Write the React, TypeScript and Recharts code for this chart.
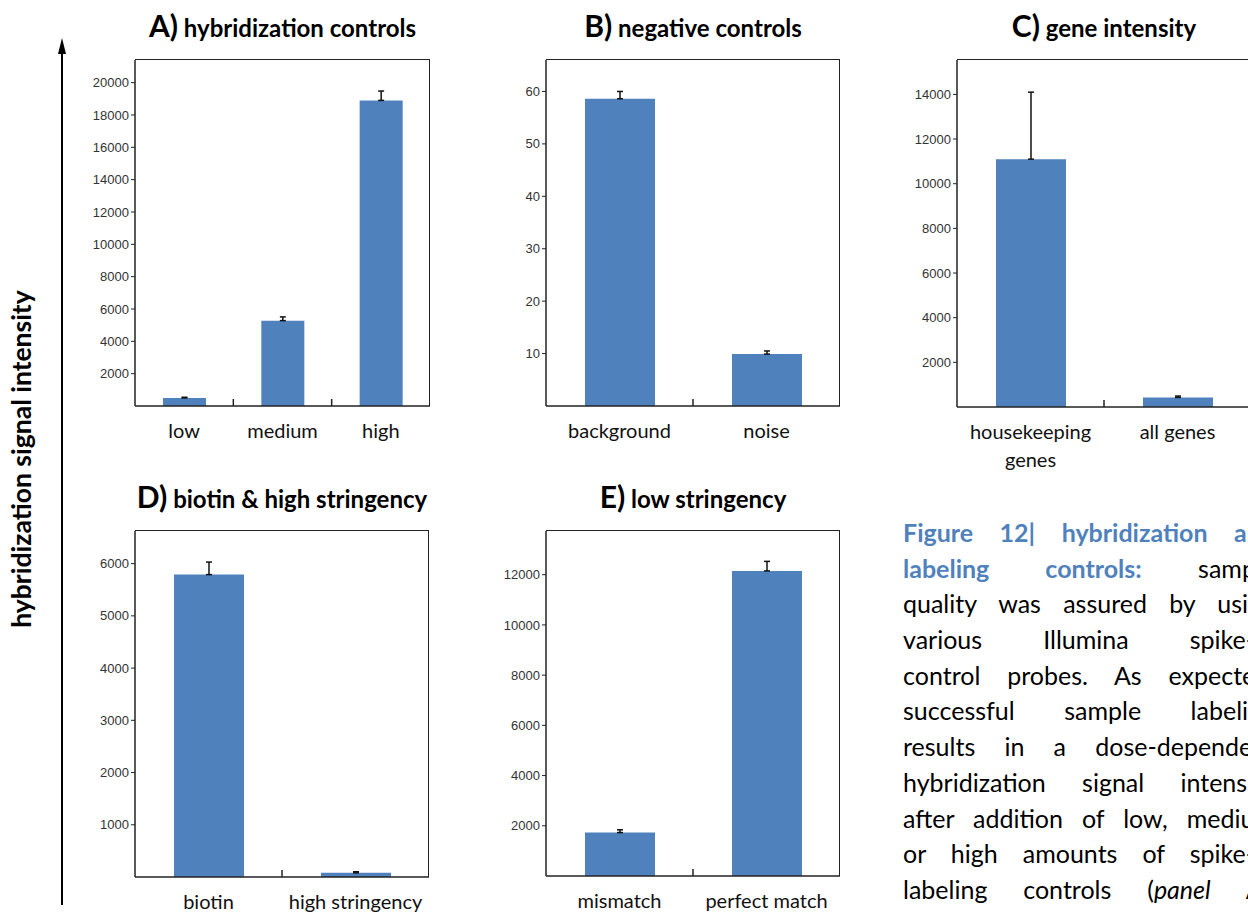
import React from 'react';
import { BarChart, Bar, XAxis, YAxis, ErrorBar } from 'recharts';

const BLUE = '#4f81bd';
const INK = '#222';

// A) hybridization controls
const hybCategories = ['low', 'medium', 'high'];
const hybValues = [500, 5280, 18900];
const hybErrors = [40, 230, 580];
const hybTicks = [2000, 4000, 6000, 8000, 10000, 12000, 14000, 16000, 18000, 20000];

// B) negative controls
const negCategories = ['background', 'noise'];
const negValues = [58.6, 9.9];
const negErrors = [1.4, 0.6];
const negTicks = [10, 20, 30, 40, 50, 60];

// C) gene intensity
const geneCategories = ['housekeeping\ngenes', 'all genes'];
const geneValues = [11100, 430];
const geneErrors = [3000, 60];
const geneTicks = [2000, 4000, 6000, 8000, 10000, 12000, 14000];

// D) biotin & high stringency
const biotinCategories = ['biotin', 'high stringency'];
const biotinValues = [5790, 80];
const biotinErrors = [240, 20];
const biotinTicks = [1000, 2000, 3000, 4000, 5000, 6000];

// E) low stringency
const lowCategories = ['mismatch', 'perfect match'];
const lowValues = [1730, 12150];
const lowErrors = [110, 380];
const lowTicks = [2000, 4000, 6000, 8000, 10000, 12000];

const captionLines = [
    [{ t: 'Figure 12| hybridization and', blue: true }],
    [{ t: 'labeling controls:', blue: true }, { t: ' sample' }],
    [{ t: 'quality was assured by using' }],
    [{ t: 'various Illumina spike-in' }],
    [{ t: 'control probes. As expected,' }],
    [{ t: 'successful sample labeling' }],
    [{ t: 'results in a dose-dependent' }],
    [{ t: 'hybridization signal intensity' }],
    [{ t: 'after addition of low, medium' }],
    [{ t: 'or high amounts of spike-in' }],
    [{ t: 'labeling controls (' }, { t: 'panel', italic: true }, { t: ' A),' }],
];

const Y_AXIS_W = 70;
const M_TOP = 2;
const X_AXIS_H = 70;

interface PanelProps {
    letter: string;
    title: string;
    categories: string[];
    values: number[];
    errors: number[];
    ticks: number[];
    yMax: number;
    left: number;
    top: number;
    plotW: number;
    plotH: number;
    barSize: number;
}

const Panel: React.FC<PanelProps> = (p) => {
    const data = p.categories.map((name, i) => ({ name, value: p.values[i], err: [0, p.errors[i]] }));
    const n = p.categories.length;
    const halfBand = p.plotW / n / 2;

    const CategoryTick = (props: any) => {
        const { x, y, payload, index } = props;
        const off = payload && payload.offset ? payload.offset : halfBand;
        const lines = String(payload.value).split('\n');
        return (
            <g>
                {index < n - 1 && (
                    <line x1={x + off} x2={x + off} y1={y} y2={y - 7} stroke={INK} strokeWidth={1.5} />
                )}
                <text x={x} y={y + 32} textAnchor="middle" fontFamily="Lato, sans-serif" fontSize={20} fill="#111">
                    {lines.map((l, k) => (
                        <tspan key={k} x={x} dy={k === 0 ? 0 : 28}>{l}</tspan>
                    ))}
                </text>
            </g>
        );
    };

    const axisLine = { stroke: INK, strokeWidth: 1.5 };

    return (
        <>
            <svg
                width={p.plotW + 40}
                height={50}
                style={{ position: 'absolute', left: p.left - 20, top: p.top - 50, overflow: 'visible' }}
            >
                <text
                    x={(p.plotW + 40) / 2}
                    y={27}
                    textAnchor="middle"
                    fontFamily="Lato, sans-serif"
                    fontWeight={700}
                    fontSize={24}
                    fill="#000"
                >
                    <tspan fontSize={30}>{p.letter}</tspan> {p.title}
                </text>
            </svg>
            <div style={{ position: 'absolute', left: p.left - Y_AXIS_W, top: p.top - M_TOP }}>
                <BarChart
                    width={Y_AXIS_W + p.plotW + 2}
                    height={M_TOP + p.plotH + X_AXIS_H}
                    data={data}
                    margin={{ top: M_TOP, right: 2, left: 0, bottom: 0 }}
                >
                    <XAxis
                        dataKey="name"
                        height={X_AXIS_H}
                        tickLine={false}
                        tickSize={0}
                        tickMargin={0}
                        interval={0}
                        axisLine={axisLine}
                        tick={<CategoryTick />}
                    />
                    <YAxis
                        type="number"
                        width={Y_AXIS_W}
                        domain={[0, p.yMax]}
                        ticks={p.ticks}
                        interval={0}
                        allowDataOverflow
                        tickSize={4}
                        tickMargin={2}
                        axisLine={axisLine}
                        tickLine={{ stroke: INK }}
                        tick={{ fontFamily: '"Liberation Sans", Arial, sans-serif', fontSize: 13, fill: '#333' }}
                    />
                    <Bar dataKey="value" fill={BLUE} barSize={p.barSize} isAnimationActive={false}>
                        <ErrorBar dataKey="err" width={3} stroke="#111" strokeWidth={1.5} direction="y" />
                    </Bar>
                </BarChart>
            </div>
            {/* top and right edges of the plot frame */}
            <div
                style={{
                    position: 'absolute',
                    left: p.left,
                    top: p.top - 0.75,
                    width: p.plotW - 0.75,
                    height: p.plotH,
                    borderTop: `1.5px solid ${INK}`,
                    borderRight: `1.5px solid ${INK}`,
                    pointerEvents: 'none',
                }}
            />
        </>
    );
};

export default function App() {
    return (
        <div
            style={{
                position: 'fixed',
                left: 0,
                top: 0,
                width: 1248,
                height: 913,
                overflow: 'hidden',
                background: '#fff',
            }}
        >
            <svg width={80} height={913} style={{ position: 'absolute', left: 0, top: 0 }}>
                <line x1={62} y1={905} x2={62} y2={50} stroke="#000" strokeWidth={2} />
                <polygon points="62,38 58,54 66,54" fill="#000" />
                <text
                    transform="translate(31 459) rotate(-90)"
                    textAnchor="middle"
                    fontFamily="Lato, sans-serif"
                    fontWeight={700}
                    fontSize={26.5}
                    fill="#000"
                >
                    hybridization signal intensity
                </text>
            </svg>

            <Panel letter="A)" title="hybridization controls" categories={hybCategories} values={hybValues}
                errors={hybErrors} ticks={hybTicks} yMax={21400} left={135} top={60} plotW={295} plotH={346} barSize={43} />
            <Panel letter="B)" title="negative controls" categories={negCategories} values={negValues}
                errors={negErrors} ticks={negTicks} yMax={66} left={546} top={60} plotW={294} plotH={346} barSize={70} />
            <Panel letter="C)" title="gene intensity" categories={geneCategories} values={geneValues}
                errors={geneErrors} ticks={geneTicks} yMax={15540} left={957} top={60} plotW={294} plotH={347} barSize={70} />
            <Panel letter="D)" title="biotin & high stringency" categories={biotinCategories} values={biotinValues}
                errors={biotinErrors} ticks={biotinTicks} yMax={6625} left={135} top={531} plotW={294} plotH={346} barSize={70} />
            <Panel letter="E)" title="low stringency" categories={lowCategories} values={lowValues}
                errors={lowErrors} ticks={lowTicks} yMax={13740} left={546} top={531} plotW={294} plotH={345} barSize={70} />

            <div
                style={{
                    position: 'absolute',
                    left: 903,
                    top: 515,
                    width: 372,
                    fontFamily: 'Lato, sans-serif',
                    fontSize: 25,
                    color: '#000',
                }}
            >
                {captionLines.map((line, i) => (
                    <div
                        key={i}
                        style={{ height: 35.7, lineHeight: '35.7px', textAlign: 'justify', textAlignLast: 'justify' }}
                    >
                        {line.map((seg: any, k) => (
                            <span
                                key={k}
                                style={{
                                    color: seg.blue ? BLUE : '#000',
                                    fontWeight: seg.blue ? 700 : 400,
                                    fontStyle: seg.italic ? 'italic' : 'normal',
                                }}
                            >
                                {seg.t}
                            </span>
                        ))}
                    </div>
                ))}
            </div>
        </div>
    );
}
